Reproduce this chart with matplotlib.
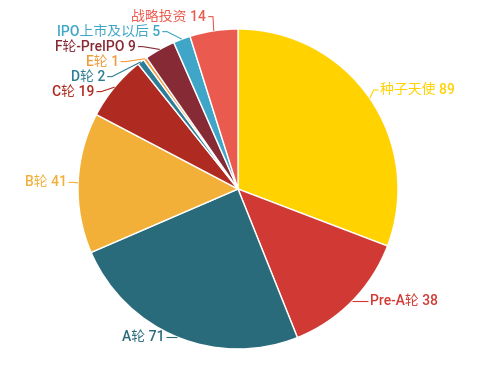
import numpy as np
import matplotlib
matplotlib.use("Agg")
import matplotlib.pyplot as plt

plt.rcParams['font.family'] = ['Roboto', 'Noto Sans CJK SC', 'DejaVu Sans']

labels = ["种子天使", "Pre-A轮", "A轮", "B轮", "C轮", "D轮", "E轮",
          "F轮-PreIPO", "IPO上市及以后", "战略投资"]
values = [89, 38, 71, 41, 19, 2, 1, 9, 5, 14]
colors = ["#FFD200", "#D13A34", "#296B7B", "#F2B038", "#AF2A20",
          "#2E7D96", "#F39A3C", "#862A35", "#3FA6C8", "#EB5A4E"]

R_PX = 160.0
fig = plt.figure(figsize=(4.91, 3.65), dpi=100)
ax = fig.add_axes([0, 0, 1, 1])
ax.pie(values, colors=colors, startangle=90, counterclock=False, radius=1,
       wedgeprops=dict(edgecolor="white", linewidth=1))
ax.set_xlim(-238 / R_PX, (491 - 238) / R_PX)
ax.set_ylim(-(365 - 189) / R_PX, 189 / R_PX)
ax.set_aspect("equal")
ax.axis("off")

# label layout (echarts-like): angle clockwise from top
vals = np.array(values, dtype=float)
cum = np.cumsum(vals)
mid = np.radians((cum - vals / 2) / vals.sum() * 360)
sx, cy = np.sin(mid), np.cos(mid)

rA_top, rB_top = 1.03, 1.09
rA_bot = 1.1
len2, gap = 0.03, 0.012
step = 15 / R_PX
ymax = (189 - 15) / R_PX

ys = np.where(cy > 0, cy * rB_top, cy)
# push overlapping labels downwards on each side
for side in (-1, 1):
    idx = [i for i in range(len(vals)) if np.sign(sx[i]) == side]
    idx.sort(key=lambda i: -ys[i])
    prev = None
    for i in idx:
        y = min(ys[i], ymax)
        if prev is not None:
            y = min(y, prev - step)
        ys[i] = y
        prev = y

for i, lab in enumerate(labels):
    side = 1 if sx[i] > 0 else -1
    y = ys[i]
    if cy[i] > 0:
        dx = rA_top * np.sqrt(max(0.0, 1 - (y / rB_top) ** 2))
    else:
        dx = rA_bot * abs(sx[i])
    ax.plot([sx[i], side * dx, side * (dx + len2)], [cy[i], y, y],
            color=colors[i], lw=0.8, solid_capstyle="butt")
    ax.text(side * (dx + len2 + gap), y, f"{lab} {values[i]}",
            color=colors[i], fontsize=10, fontweight="medium", va="center",
            ha="left" if side > 0 else "right")

fig.savefig("out.png", dpi=100)
